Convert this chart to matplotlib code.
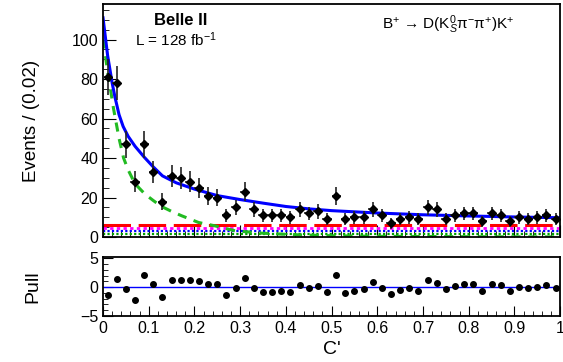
import numpy as np
import matplotlib
matplotlib.use("Agg")
import matplotlib.pyplot as plt
from matplotlib.ticker import MultipleLocator

plt.rcParams['font.family'] = ['Liberation Sans', 'DejaVu Sans']
plt.rcParams['mathtext.fontset'] = 'custom'
plt.rcParams['mathtext.rm'] = 'Liberation Sans'
plt.rcParams['mathtext.it'] = 'Liberation Sans:italic'

# bin centres of C' (bin width 0.02)
bins = np.linspace(0.01, 0.99, 50)
counts = [81, 78, 47, 28, 47, 33, 18, 31, 30, 28,
          25, 21, 20, 11, 15, 23, 14, 11, 11, 11,
          10, 14, 12, 13, 9, 21, 9, 10, 10, 14,
          11, 7, 9, 10, 9, 15, 14, 9, 11, 12,
          12, 8, 12, 11, 8, 10, 9, 10, 11, 9]
pulls = [-1.3, 1.4, -0.4, -2.2, 2.1, 0.5, -1.7, 1.25, 1.25, 1.25,
         1.1, 0.5, 0.5, -1.4, -0.2, 1.5, -0.2, -0.8, -0.8, -0.6,
         -0.8, 0.3, -0.1, 0.2, -0.8, 2.1, -1.0, -0.7, -0.4, 0.8,
         -0.1, -1.2, -0.5, -0.2, -0.7, 1.2, 0.7, -0.4, 0.2, 0.5,
         0.5, -0.6, 0.5, 0.3, -0.6, 0.0, -0.2, 0.0, 0.4, -0.1]

# fit curves
c_total = [0.0, 0.01, 0.02, 0.026, 0.035, 0.044, 0.055, 0.07, 0.09, 0.11, 0.13,
           0.16, 0.2, 0.25, 0.3, 0.35, 0.4, 0.45, 0.5, 0.6, 0.7, 0.8, 0.9, 1.0]
total = [111, 92, 78, 71, 62, 56, 51, 46, 40.5, 35.5, 31,
         27.5, 24.3, 21, 19, 17.2, 15.5, 14.3, 13.4, 12.2, 11.3, 10.7, 10.2, 9.8]
c_sig = [0.0, 0.01, 0.023, 0.035, 0.045, 0.055, 0.07, 0.092, 0.11, 0.128, 0.15,
         0.172, 0.209, 0.245, 0.289, 0.347, 0.42, 0.5, 0.6, 0.8, 1.0]
signal = [100, 84, 65, 50, 40, 34, 27, 21.7, 18.5, 15.5, 13,
          10.8, 7.4, 5.7, 3.2, 2.0, 1.2, 0.7, 0.4, 0.2, 0.1]
c_flat = [0.0, 1.0]
qq_bkg = [6.0, 6.0]
bb_bkg = [4.4, 4.4]
other_bkg = [3.0, 3.0]
peak_bkg = [1.4, 1.4]

fig = plt.figure(figsize=(5.63, 3.62), dpi=100)
ax1 = fig.add_axes([0.183, 0.345, 0.812, 0.644])
ax2 = fig.add_axes([0.183, 0.127, 0.812, 0.163], sharex=ax1)

ax1.plot(c_flat, peak_bkg, color='#00a000', lw=1.6, ls=(0, (1, 1)))
ax1.plot(c_flat, other_bkg, color='blue', lw=1.6, ls=(0, (1, 1)))
ax1.plot(c_flat, bb_bkg, color='magenta', lw=2.0, ls=(0, (1.2, 1.2)))
ax1.plot(c_flat, qq_bkg, color='red', lw=2.2, ls=(0, (9, 2.5)))
ax1.plot(c_sig, signal, color='#22bb22', lw=2.2, ls=(0, (3, 2.5)))
ax1.plot(c_total, total, color='blue', lw=2.2)
ax1.errorbar(bins, counts, yerr=np.sqrt(counts), xerr=0.01, fmt='D', ms=4,
             color='black', ecolor='#222222', elinewidth=1.2, capsize=0, zorder=5)

ax1.set_xlim(0, 1)
ax1.set_ylim(0, 118)
ax1.yaxis.set_major_locator(MultipleLocator(20))
ax1.yaxis.set_minor_locator(MultipleLocator(5))
ax1.xaxis.set_major_locator(MultipleLocator(0.1))
ax1.xaxis.set_minor_locator(MultipleLocator(0.02))
ax1.tick_params(which='both', direction='in', labelsize=11.5, labelbottom=False)
ax1.tick_params(which='major', length=9)
ax1.tick_params(which='minor', length=4.5)
ax1.set_ylabel("Events / (0.02)", fontsize=13.5, labelpad=23)

ax1.text(0.17, 0.93, "Belle II", transform=ax1.transAxes, ha='center',
         va='center', fontsize=12, fontweight='bold')
ax1.text(0.16, 0.845, r"L = 128 fb$^{-1}$", transform=ax1.transAxes,
         ha='center', va='center', fontsize=11)
ax1.text(0.755, 0.91, "B$^{+}$ → D(K$^{0}_{S}$π$^{-}$π$^{+}$)K$^{+}$",
         transform=ax1.transAxes, ha='center', va='center', fontsize=11)

ax2.axhline(0, color='blue', lw=1.0)
ax2.plot(bins, pulls, 'o', color='black', ms=4)
ax2.set_ylim(-5, 5.2)
ax2.set_yticks([-5, 0, 5])
ax2.set_yticklabels(['\u22125', '0', '5'])
ax2.yaxis.set_minor_locator(MultipleLocator(1))
ax2.tick_params(which='both', direction='in', labelsize=11.5)
ax2.tick_params(which='major', length=7)
ax2.tick_params(which='minor', length=3.5)
ax2.set_xticks([0, 0.1, 0.2, 0.3, 0.4, 0.5, 0.6, 0.7, 0.8, 0.9, 1.0])
ax2.set_xticklabels(['0', '0.1', '0.2', '0.3', '0.4', '0.5', '0.6', '0.7',
                     '0.8', '0.9', '1'])
ax2.set_ylabel("Pull", fontsize=14, labelpad=28)
ax2.set_xlabel("C'", fontsize=14, labelpad=4)

for ax in (ax1, ax2):
    for s in ax.spines.values():
        s.set_linewidth(1.3)
fig.align_ylabels([ax1, ax2])

fig.savefig("out.png", dpi=100)
